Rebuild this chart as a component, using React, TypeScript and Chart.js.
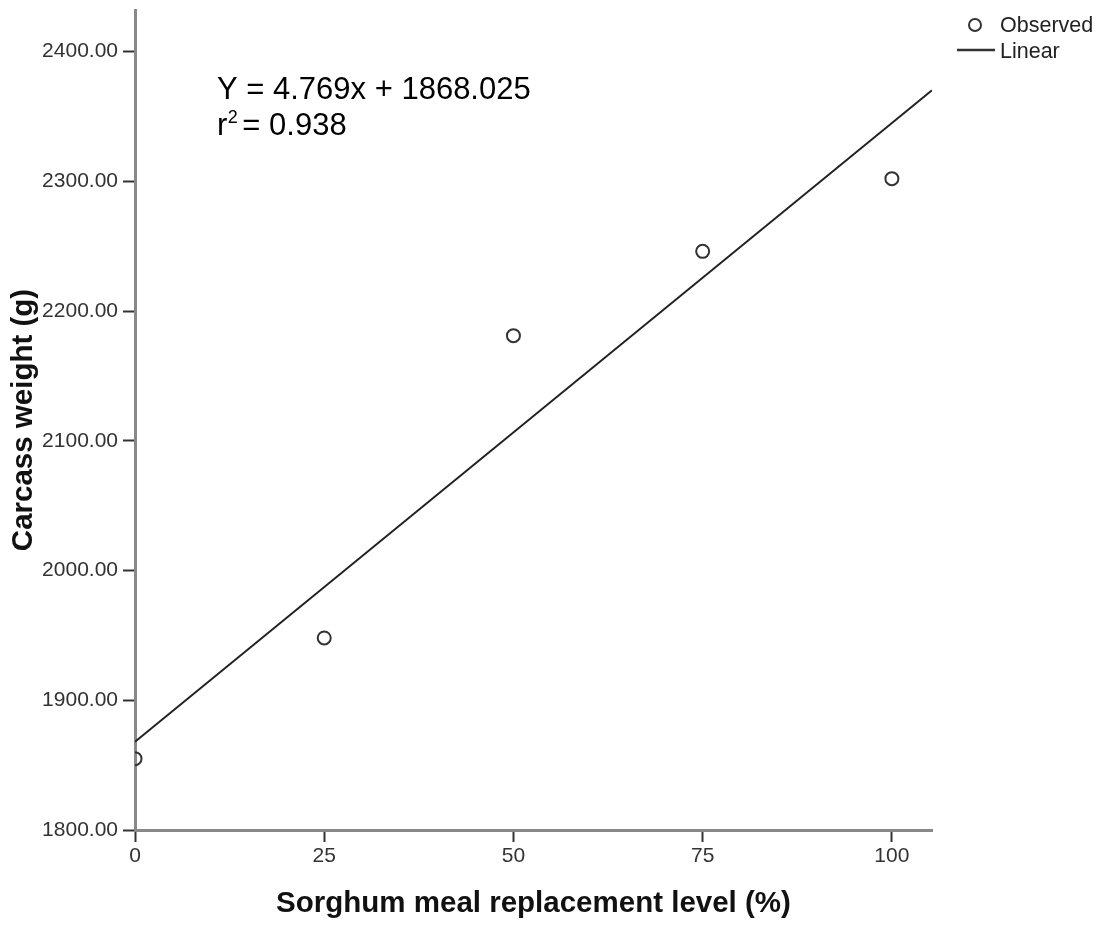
import React, { useEffect, useRef } from "react";
import { Chart, registerables } from "chart.js";

Chart.register(...registerables);

const replacementLevels = [0, 25, 50, 75, 100];
const carcassWeights = [1855, 1948, 2181, 2246, 2302];
const slope = 4.769;
const intercept = 1868.025;
const rSquared = 0.938;
const fitRange = [0, 105.3];
const xTickValues = [0, 25, 50, 75, 100];
const yTickValues = [1800, 1900, 2000, 2100, 2200, 2300, 2400];
const xTitle = "Sorghum meal replacement level (%)";
const yTitle = "Carcass weight (g)";
const legendLabels = ["Observed", "Linear"];

const SANS = "'Liberation Sans', Arial, sans-serif";

const overlayPlugin = {
  id: "overlay",
  afterDraw(chart: any) {
    const ctx = chart.ctx as CanvasRenderingContext2D;
    ctx.save();
    // equation
    ctx.fillStyle = "#000";
    ctx.textAlign = "left";
    ctx.textBaseline = "alphabetic";
    ctx.font = `31px ${SANS}`;
    ctx.fillText(`Y = ${slope}x + ${intercept.toFixed(3)}`, 217, 99);
    ctx.fillText("r", 217, 135);
    const rw = ctx.measureText("r").width;
    ctx.font = `18px ${SANS}`;
    ctx.fillText("2", 217 + rw + 0.5, 123);
    const w2 = ctx.measureText("2").width;
    ctx.font = `31px ${SANS}`;
    ctx.fillText(`= ${rSquared.toFixed(3)}`, 217 + rw + w2 + 5, 135);

    // legend
    ctx.strokeStyle = "#333";
    ctx.lineWidth = 2;
    ctx.beginPath();
    ctx.arc(975, 25, 6, 0, Math.PI * 2);
    ctx.stroke();
    ctx.lineWidth = 2.5;
    ctx.beginPath();
    ctx.moveTo(957, 50);
    ctx.lineTo(995, 50);
    ctx.stroke();
    ctx.fillStyle = "#222";
    ctx.font = `21.5px ${SANS}`;
    ctx.textBaseline = "middle";
    ctx.fillText(legendLabels[0], 1000, 26);
    ctx.fillText(legendLabels[1], 1000, 52);
    ctx.restore();
  },
};

export default function App() {
  const ref = useRef<HTMLCanvasElement>(null);
  useEffect(() => {
    if (!ref.current) return;
    const chart = new Chart(ref.current, {
      type: "scatter",
      data: {
        datasets: [
          {
            label: legendLabels[0],
            data: replacementLevels.map((x, i) => ({ x, y: carcassWeights[i] })),
            pointRadius: 6.5,
            pointBorderWidth: 2,
            pointBackgroundColor: "rgba(0,0,0,0)",
            pointBorderColor: "#333",
            showLine: false,
            clip: 0,
          } as any,
          {
            label: legendLabels[1],
            type: "line",
            data: fitRange.map((x) => ({ x, y: intercept + slope * x })),
            borderColor: "#222",
            borderWidth: 2,
            pointRadius: 0,
            fill: false,
            clip: 0,
          } as any,
        ],
      },
      options: {
        responsive: false,
        animation: false,
        events: [],
        layout: { padding: { top: 10, right: 171, left: 0, bottom: 0 } },
        plugins: { legend: { display: false }, tooltip: { enabled: false } },
        scales: {
          x: {
            type: "linear",
            min: 0,
            max: 105.3,
            afterBuildTicks: (s: any) => {
              s.ticks = xTickValues.map((v) => ({ value: v }));
            },
            afterFit: (s: any) => {
              s.height = 97;
              s.paddingLeft = 0;
              s.paddingRight = 0;
            },
            ticks: {
              color: "#333",
              font: { family: SANS, size: 21 },
              padding: 2,
              maxRotation: 0,
              callback: (v: any) => String(v),
            },
            grid: {
              drawOnChartArea: false,
              drawTicks: true,
              tickLength: 12,
              tickWidth: 2,
              tickColor: "#333",
            },
            border: { display: true, color: "#888", width: 3 },
            title: {
              display: true,
              text: xTitle,
              color: "#111",
              font: { family: SANS, size: 29.5, weight: "bold" },
              padding: { top: 0, bottom: 5 },
            },
          },
          y: {
            type: "linear",
            min: 1800,
            max: 2432,
            afterBuildTicks: (s: any) => {
              s.ticks = yTickValues.map((v) => ({ value: v }));
            },
            afterFit: (s: any) => {
              s.width = 135;
              s.paddingTop = 0;
              s.paddingBottom = 0;
            },
            ticks: {
              color: "#333",
              font: { family: SANS, size: 21 },
              padding: 5,
              callback: (v: any) => Number(v).toFixed(2),
            },
            grid: {
              drawOnChartArea: false,
              drawTicks: true,
              tickLength: 12,
              tickWidth: 2,
              tickColor: "#333",
            },
            border: { display: true, color: "#888", width: 3 },
            title: {
              display: true,
              text: yTitle,
              color: "#111",
              font: { family: SANS, size: 29.5, weight: "bold" },
              padding: { top: 6, bottom: 0 },
            },
          },
        },
      },
      plugins: [overlayPlugin],
    });
    return () => chart.destroy();
  }, []);
  return (
    <div style={{ position: "absolute", left: 0, top: 0, width: 1103, height: 927, background: "#fff" }}>
      <canvas ref={ref} width={1103} height={927} style={{ display: "block" }} />
    </div>
  );
}
